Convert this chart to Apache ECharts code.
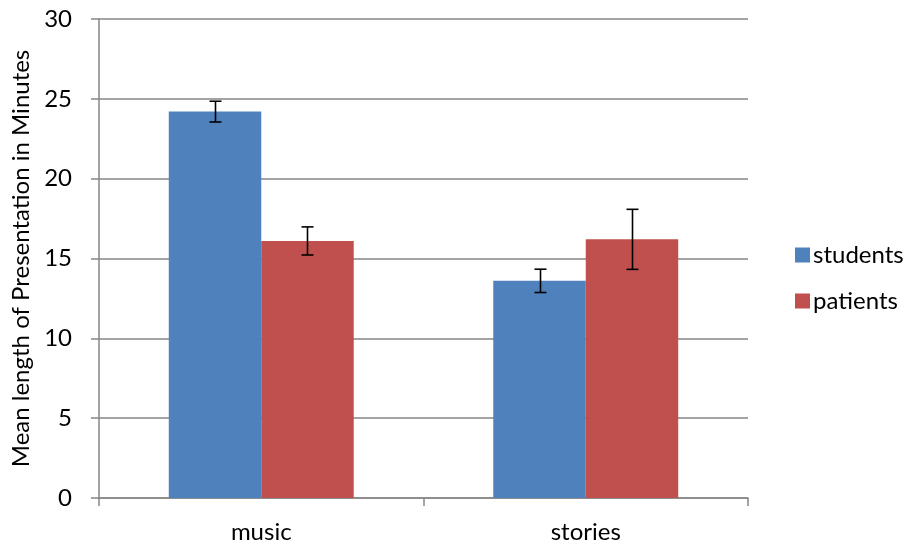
<!DOCTYPE html>
<html>
<head>
<meta charset="utf-8">
<script src="https://cdn.jsdelivr.net/npm/echarts@6/dist/echarts.min.js"></script>
<style>html,body{margin:0;padding:0;background:#fff}#c{width:912px;height:546px}</style>
</head>
<body>
<div id="c"></div>
<script>
var categories = ['music', 'stories'];
var seriesNames = ['students', 'patients'];
var students = [24.2, 13.6];
var patients = [16.1, 16.2];
var studentsErr = [0.65, 0.73];
var patientsErr = [0.88, 1.88];
var yTicks = [0, 5, 10, 15, 20, 25, 30];

var FONT = 'Lato';
var FS = 24;
var CAT_GAP = 0.43;
var chart = echarts.init(document.getElementById('c'));

function errSeries(values, errs, side) {
  return {
    type: 'custom',
    name: side < 0 ? seriesNames[0] + ' err' : seriesNames[1] + ' err',
    silent: true,
    z: 10,
    data: values.map(function (v, i) { return [i, v, errs[i]]; }),
    renderItem: function (params, api) {
      var i = api.value(0), v = api.value(1), e = api.value(2);
      var band = api.size([1, 0])[0];
      var off = side * band * (1 - CAT_GAP) / 4;
      var hi = api.coord([i, v + e]);
      var lo = api.coord([i, v - e]);
      var x = Math.round(hi[0] + off) + 0.5;
      var cw = 6;
      var st = { stroke: '#000', lineWidth: 1.6 };
      return {
        type: 'group',
        children: [
          { type: 'line', shape: { x1: x, y1: hi[1], x2: x, y2: lo[1] }, style: st },
          { type: 'line', shape: { x1: x - cw, y1: hi[1], x2: x + cw, y2: hi[1] }, style: st },
          { type: 'line', shape: { x1: x - cw, y1: lo[1], x2: x + cw, y2: lo[1] }, style: st }
        ]
      };
    }
  };
}

chart.setOption({
  animation: false,
  textStyle: { fontFamily: FONT },
  grid: { left: 99, right: 164, top: 19, bottom: 48, containLabel: false },
  legend: {
    orient: 'vertical',
    left: 790,
    top: 238,
    icon: 'rect',
    itemWidth: 15,
    itemHeight: 15,
    itemGap: 22,
    data: seriesNames,
    textStyle: { fontFamily: FONT, fontSize: FS, color: '#000', padding: [0, 0, 0, -2] }
  },
  xAxis: {
    type: 'category',
    data: categories,
    axisLine: { lineStyle: { color: '#868686', width: 1.5 } },
    axisTick: { show: true, length: 8, lineStyle: { color: '#868686', width: 1.5 } },
    axisLabel: { fontFamily: FONT, fontSize: FS, color: '#000', margin: 22 }
  },
  yAxis: {
    type: 'value',
    min: 0,
    max: 30,
    interval: 5,
    name: 'Mean length of Presentation in Minutes',
    nameLocation: 'middle',
    nameGap: 66,
    nameTextStyle: { fontFamily: FONT, fontSize: FS, color: '#000' },
    axisLine: { show: true, lineStyle: { color: '#868686', width: 1.5 } },
    axisTick: { show: true, length: 8, lineStyle: { color: '#868686', width: 1.5 } },
    splitLine: { lineStyle: { color: '#868686', width: 1.5 } },
    axisLabel: {
      fontFamily: FONT, fontSize: FS, color: '#000', margin: 27,
      formatter: function (v) { return yTicks.indexOf(v) >= 0 ? String(v) : ''; }
    }
  },
  series: [
    { type: 'bar', name: seriesNames[0], data: students, barGap: '0%', barCategoryGap: (CAT_GAP * 100) + '%',
      itemStyle: { color: '#4F81BD' } },
    { type: 'bar', name: seriesNames[1], data: patients, barGap: '0%', barCategoryGap: (CAT_GAP * 100) + '%',
      itemStyle: { color: '#C0504D' } },
    errSeries(students, studentsErr, -1),
    errSeries(patients, patientsErr, 1)
  ]
});
</script>
</body>
</html>
